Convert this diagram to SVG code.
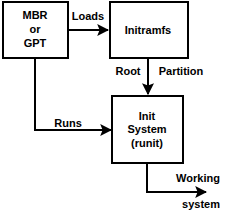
<svg xmlns="http://www.w3.org/2000/svg" width="233" height="216" viewBox="0 0 233 216">
<defs>
<style>
.box{fill:#fff;stroke:#000;stroke-width:2}
.t{font-family:"Liberation Sans",Arial,sans-serif;font-weight:bold;font-size:11px;fill:#000;text-anchor:middle}
.c{fill:none;stroke:#000;stroke-width:2}
</style>
<marker id="ah" viewBox="0 0 10 10" refX="9" refY="5" markerWidth="6" markerHeight="6" orient="auto" markerUnits="strokeWidth">
<path d="M0,0 L10,5 L0,10 L2,5 Z" fill="#000"/>
</marker>
</defs>
<g id="connectors">
<path class="c" d="M68,30 H108" marker-end="url(#ah)"/>
<path class="c" d="M148,58 V94" marker-end="url(#ah)"/>
<path class="c" d="M35,58 V130 H111" marker-end="url(#ah)"/>
<path class="c" d="M147,163 V192 H206" marker-end="url(#ah)"/>
<text class="t" x="88" y="20">Loads</text>
<text class="t" x="128" y="75">Root</text>
<text class="t" x="181" y="75">Partition</text>
<text class="t" x="68" y="127">Runs</text>
<text class="t" x="198" y="182">Working</text>
<text class="t" x="201" y="208">system</text>
</g>
<g id="mbr">
<rect class="box" x="3" y="2" width="65" height="56"/>
<text class="t" x="35" y="19">MBR</text>
<text class="t" x="35" y="33">or</text>
<text class="t" x="35" y="47">GPT</text>
</g>
<g id="initramfs">
<rect class="box" x="110" y="2" width="78" height="56"/>
<text class="t" x="148" y="34">Initramfs</text>
</g>
<g id="init">
<rect class="box" x="112" y="96" width="71" height="67"/>
<text class="t" x="147" y="120">Init</text>
<text class="t" x="147" y="133">System</text>
<text class="t" x="147" y="147">(runit)</text>
</g>
</svg>
